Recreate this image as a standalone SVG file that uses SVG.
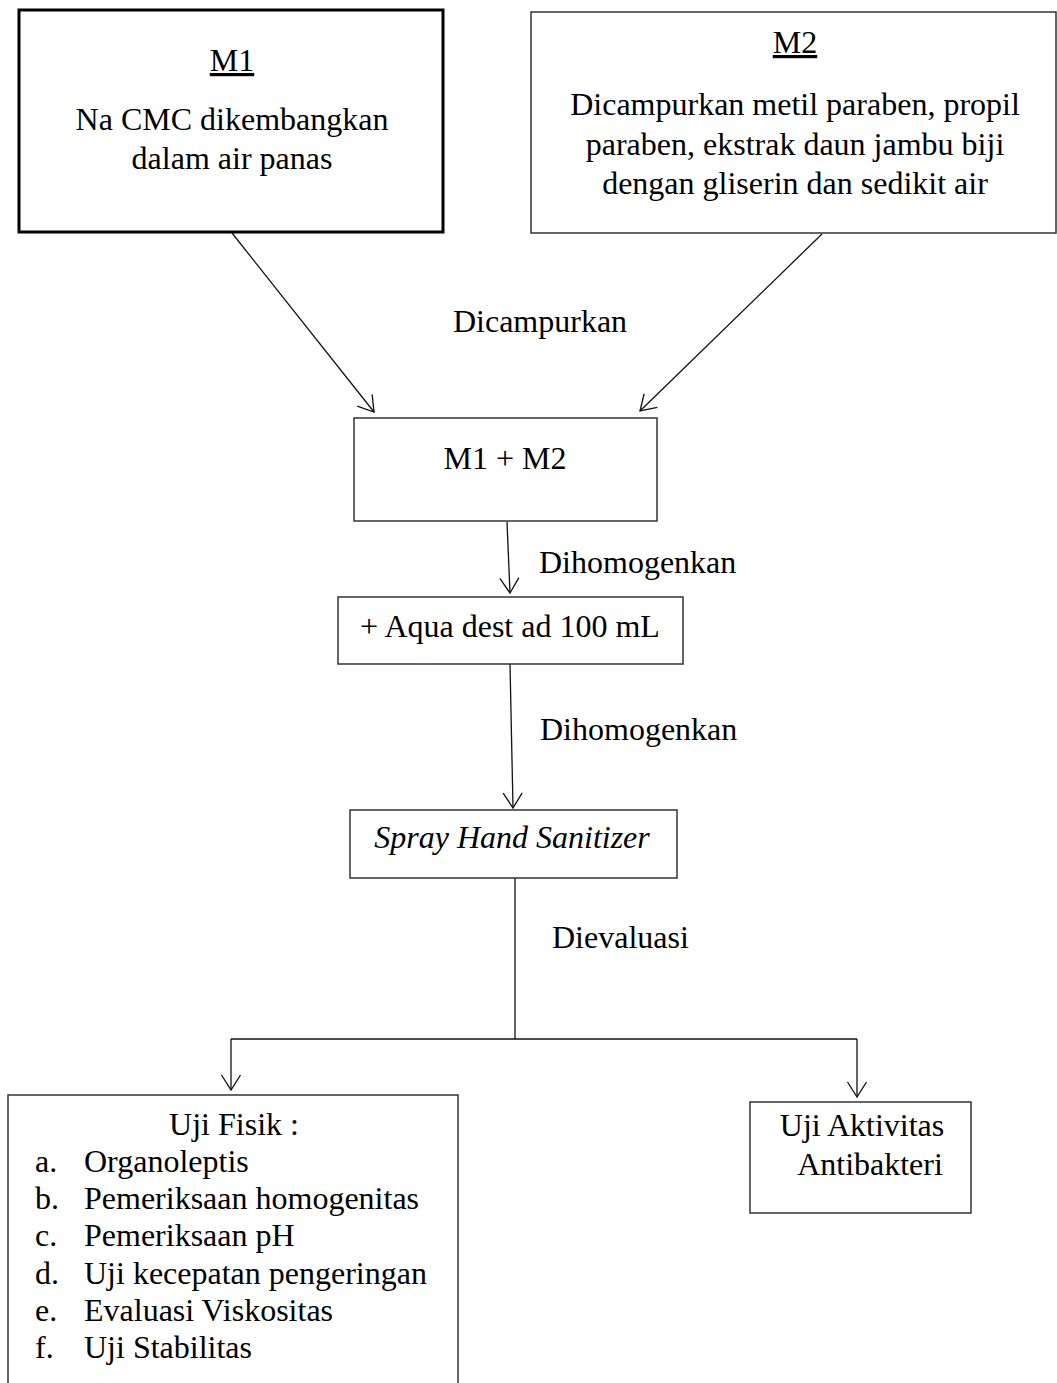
<svg xmlns="http://www.w3.org/2000/svg" width="1057" height="1383" viewBox="0 0 1057 1383">
<style>
  text { font-family: "Liberation Serif", "Times New Roman", serif; font-size: 32px; fill: #000; }
  .c { text-anchor: middle; }
  .box { fill: #fff; stroke: #333; stroke-width: 1.5; }
  .thick { fill: #fff; stroke: #000; stroke-width: 3; }
  .conn { stroke: #111; stroke-width: 1.3; fill: none; }
  .u { text-decoration: underline; }
  .i { font-style: italic; }
</style>
<defs>
  <marker id="arr" markerUnits="userSpaceOnUse" viewBox="0 0 18 22" markerWidth="18" markerHeight="22" refX="16" refY="11" orient="auto">
    <path d="M1,1.5 L16,11 L1,20.5" fill="none" stroke="#111" stroke-width="1.3"/>
  </marker>
</defs>
<rect width="1057" height="1383" fill="#fff"/>

<g id="connectors">
  <line class="conn" x1="232" y1="233" x2="374" y2="412" marker-end="url(#arr)"/>
  <line class="conn" x1="822" y1="234" x2="640" y2="411" marker-end="url(#arr)"/>
  <line class="conn" x1="507" y1="522" x2="510" y2="593" marker-end="url(#arr)"/>
  <line class="conn" x1="510" y1="664" x2="513" y2="808" marker-end="url(#arr)"/>
  <line class="conn" x1="515" y1="878" x2="515" y2="1039"/>
  <line class="conn" x1="231" y1="1039" x2="857" y2="1039"/>
  <line class="conn" x1="231" y1="1039" x2="231" y2="1090" marker-end="url(#arr)"/>
  <line class="conn" x1="857" y1="1039" x2="857" y2="1097" marker-end="url(#arr)"/>
  <text x="540" y="332" class="c">Dicampurkan</text>
  <text x="539" y="573">Dihomogenkan</text>
  <text x="540" y="740">Dihomogenkan</text>
  <text x="552" y="948">Dievaluasi</text>
</g>

<g id="m1">
  <rect class="thick" x="19" y="10" width="424" height="222"/>
  <text x="232" y="71" class="c u">M1</text>
  <text x="232" y="130" class="c">Na CMC dikembangkan</text>
  <text x="232" y="169" class="c">dalam air panas</text>
</g>

<g id="m2">
  <rect class="box" x="531" y="12" width="525" height="221"/>
  <text x="795" y="53" class="c u">M2</text>
  <text x="795" y="115" class="c">Dicampurkan metil paraben, propil</text>
  <text x="795" y="155" class="c">paraben, ekstrak daun jambu biji</text>
  <text x="795" y="194" class="c">dengan gliserin dan sedikit air</text>
</g>

<g id="m1m2">
  <rect class="box" x="354" y="418" width="303" height="103"/>
  <text x="505" y="469" class="c">M1 + M2</text>
</g>

<g id="aqua">
  <rect class="box" x="338" y="597" width="345" height="67"/>
  <text x="510" y="637" class="c">+ Aqua dest ad 100 mL</text>
</g>

<g id="spray">
  <rect class="box" x="350" y="810" width="327" height="68"/>
  <text x="512" y="848" class="c i">Spray Hand Sanitizer</text>
</g>

<g id="ujifisik">
  <rect class="box" x="8" y="1095" width="450" height="320"/>
  <text x="234" y="1135" class="c">Uji Fisik :</text>
  <text x="35" y="1172">a.</text><text x="84" y="1172">Organoleptis</text>
  <text x="35" y="1209">b.</text><text x="84" y="1209">Pemeriksaan homogenitas</text>
  <text x="35" y="1246">c.</text><text x="84" y="1246">Pemeriksaan pH</text>
  <text x="35" y="1284">d.</text><text x="84" y="1284">Uji kecepatan pengeringan</text>
  <text x="35" y="1321">e.</text><text x="84" y="1321">Evaluasi Viskositas</text>
  <text x="35" y="1358">f.</text><text x="84" y="1358">Uji Stabilitas</text>
</g>

<g id="ujiaktivitas">
  <rect class="box" x="750" y="1102" width="221" height="111"/>
  <text x="862" y="1136" class="c">Uji Aktivitas</text>
  <text x="870" y="1175" class="c">Antibakteri</text>
</g>
</svg>
